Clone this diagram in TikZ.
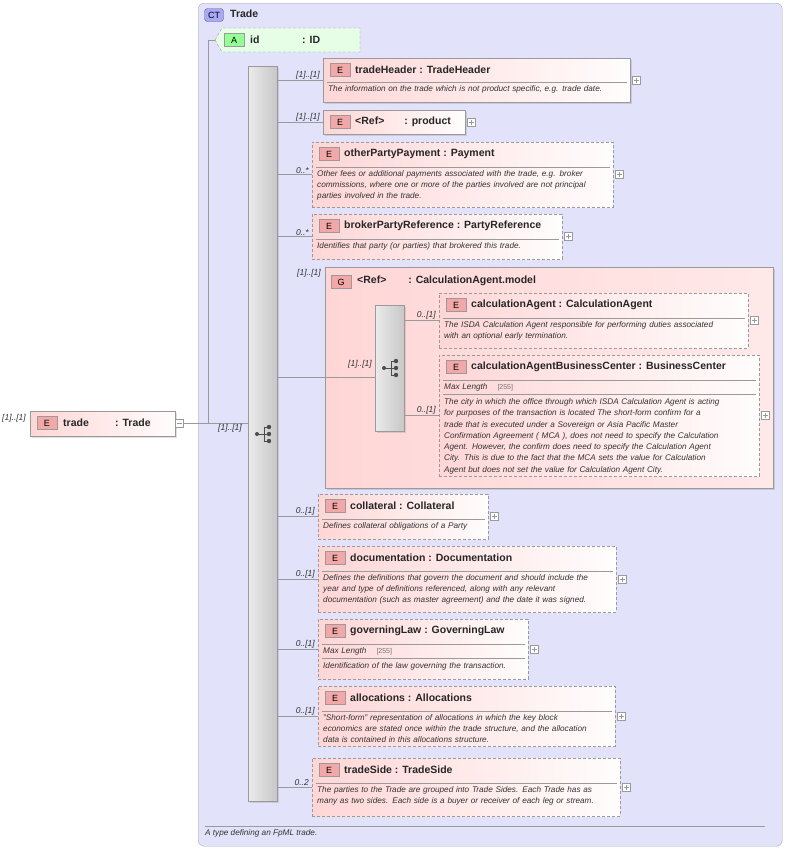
\documentclass[tikz,border=0pt]{standalone}
\usepackage{fontspec}
\setmainfont{Liberation Sans}
\usetikzlibrary{shadows}
\definecolor{ctfill}{HTML}{E2E2FA}
\definecolor{ctline}{HTML}{A8A8B8}
\definecolor{epink}{HTML}{FFD6D6}
\definecolor{ebadge}{HTML}{F2A8A8}
\definecolor{gline}{HTML}{9A9A9A}
\definecolor{afill}{HTML}{E6FDE6}
\tikzset{
  ebox/.style={anchor=north west,inner sep=0pt,draw=gline,left color=epink,right color=white!95!epink},
  solidbox/.style={drop shadow={opacity=0.25,shadow xshift=2pt,shadow yshift=-2pt}},
  dashbox/.style={dashed,dash pattern=on 3pt off 2pt},
  ebadgest/.style={draw=gline,fill=ebadge,minimum width=20pt,minimum height=13pt,inner sep=0pt,font=\fontsize{9}{10}\selectfont},
  etitle/.style={anchor=west,inner sep=0pt,font=\fontsize{10.5}{12}\selectfont\bfseries,text=black!85},
  edesc/.style={anchor=north west,inner sep=0pt,align=left,font=\fontsize{8.2}{11.3}\selectfont\itshape,text=black!80},
  sepline/.style={draw=gline},
  conn/.style={draw=gline,line width=0.6pt},
  card/.style={inner sep=0pt,font=\fontsize{8.5}{10}\selectfont\itshape,text=black!80},
  plus/.style={draw=gline,fill=white,minimum size=8pt,inner sep=0pt,
    path picture={\draw[gline] ([xshift=1.5pt]path picture bounding box.west)--([xshift=-1.5pt]path picture bounding box.east);
      \draw[gline] ([yshift=1.5pt]path picture bounding box.south)--([yshift=-1.5pt]path picture bounding box.north);}},
  minus/.style={draw=gline,fill=white,minimum size=8pt,inner sep=0pt,
    path picture={\draw[gline] ([xshift=1.5pt]path picture bounding box.west)--([xshift=-1.5pt]path picture bounding box.east);}},
  seqbar/.style={anchor=north west,inner sep=0pt,draw=gline,left color=black!8,right color=black!22,solidbox},
}
\newcommand\elem[9]{%
  \node[ebox,#6,minimum width=#4pt,minimum height=#5pt] (#1) at (#2,#3) {};
  \node[ebadgest] (#1b) at (#2+17,#3+12) {E};
  \node[etitle] (#1t) at (#2+32,#3+12) {#7};
  \ifx\relax#8\relax\else
  \draw[sepline] (#2+4,#3+#9) -- (#2+#4-3,#3+#9);
  \node[edesc,text width=#4pt-8pt] (#1d) at (#2+5,#3+#9+3) {#8};
  \fi
  \node[plus] (#1p) at (#2+#4+6,#3+#5/2) {};
}
\newcommand\seqicon[2]{%
  \draw[black!70,line width=0.8pt] (#1-7,#2) -- (#1,#2) (#1,#2-7) -- (#1,#2+7)
     (#1,#2-7) -- (#1+5,#2-7) (#1,#2) -- (#1+5,#2) (#1,#2+7) -- (#1+5,#2+7);
  \fill[black!70] (#1-7,#2) circle (2pt) (#1+5,#2-7) circle (2.2pt) (#1+5,#2) circle (2.2pt) (#1+5,#2+7) circle (2.2pt);
}
\newcommand\maxlen{Max Length\hspace{10pt}{\upshape\fontsize{7}{8}\selectfont\color{black!55}[255]}\\[4pt]}
\begin{document}
\begin{tikzpicture}[x=1pt,y=-1pt]
\useasboundingbox (0,0) rectangle (787,849);
% outer CT box
\node[anchor=north west,draw=ctline,fill=ctfill,rounded corners=6pt,minimum width=584pt,minimum height=843pt,inner sep=0pt] (ct) at (198,3) {};
\node[draw=black!60,fill=blue!25!ctfill,rounded corners=3pt,minimum width=19pt,minimum height=13pt,inner sep=0pt,font=\fontsize{9}{10}\selectfont] (ctb) at (214,15) {CT};
\node[etitle] (ctt) at (230,14) {Trade};
\draw[gline] (205,826) -- (765,826);
\node[edesc] (ctd) at (205,829) {A type defining an FpML trade.};

% attribute id
\draw[draw=gline,fill=afill,dashbox] (215,40) -- (222,28) -- (360,28) -- (360,52) -- (222,52) -- cycle;
\node[draw=gline,fill=green!35!afill,minimum width=20pt,minimum height=13pt,inner sep=0pt,font=\fontsize{9}{10}\selectfont] (ab) at (234,40) {A};
\node[etitle] (idn) at (250,40) {id};
\node[etitle] (idt) at (302,40) {: ID};
\coordinate (ida) at (215,40);

% trade element
\node[ebox,solidbox,minimum width=145pt,minimum height=25pt] (trade) at (30,411) {};
\node[ebadgest] (tradeb) at (47,423) {E};
\node[etitle] (tradet) at (63,423) {trade};
\node[etitle] (tradet2) at (115,423) {: Trade};
\node[minus] (tradem) at (179,423) {};
\node[card,anchor=west] at (2,418) {[1]..[1]};

% main sequence
\node[seqbar,minimum width=29pt,minimum height=735pt] (seq) at (248,66) {};
\seqicon{264}{434}
\draw[conn] (tradem.east) -- (seq.west |- tradem.east);
\node[card,anchor=west] at (218,428) {[1]..[1]};
\coordinate (vj) at (208,423);
\draw[conn] (vj) -- (208,40) -- (ida);

% children
\elem{th}{323}{58}{307}{44}{solidbox}{tradeHeader : TradeHeader}{The information on the trade which is not product specific, e.g. trade date.}{24}
\elem{prod}{323}{110}{142}{24}{solidbox}{<Ref>\hspace{20pt}: product}{}{0}
\elem{opp}{312}{142}{301}{65}{dashbox}{otherPartyPayment : Payment}{Other fees or additional payments associated with the trade, e.g. broker\\commissions, where one or more of the parties involved are not principal\\parties involved in the trade.}{25}
\elem{bpr}{312}{214}{250}{45}{dashbox}{brokerPartyReference : PartyReference}{Identifies that party (or parties) that brokered this trade.}{25}
\elem{col}{318}{494}{170}{45}{dashbox}{collateral : Collateral}{Defines collateral obligations of a Party}{25}
\elem{doc}{318}{546}{298}{66}{dashbox}{documentation : Documentation}{Defines the definitions that govern the document and should include the\\year and type of definitions referenced, along with any relevant\\documentation (such as master agreement) and the date it was signed.}{25}
\elem{gl}{318}{619}{210}{60}{dashbox}{governingLaw : GoverningLaw}{\maxlen Identification of the law governing the transaction.}{25}
\draw[sepline] (322,658) -- (525,658);
\elem{alloc}{318}{686}{297}{60}{dashbox}{allocations : Allocations}{"Short-form" representation of allocations in which the key block\\economics are stated once within the trade structure, and the allocation\\data is contained in this allocations structure.}{25}
\elem{ts}{312}{758}{308}{58}{dashbox}{tradeSide : TradeSide}{The parties to the Trade are grouped into Trade Sides. Each Trade has as\\many as two sides. Each side is a buyer or receiver of each leg or stream.}{25}

% group
\node[ebox,solidbox,minimum width=448pt,minimum height=221pt,left color=epink,right color=epink!55!white] (grp) at (325,267) {};
\node[ebadgest] (grpb) at (341,282) {G};
\node[etitle] (grpt) at (357,281) {<Ref>\hspace{22pt}: CalculationAgent.model};
\node[seqbar,minimum width=29pt,minimum height=126pt] (seq2) at (375,305) {};
\seqicon{391}{368}
\elem{ca}{439}{293}{309}{55}{dashbox}{calculationAgent : CalculationAgent}{The ISDA Calculation Agent responsible for performing duties associated\\with an optional early termination.}{25}
\elem{cabc}{439}{355}{320}{121}{dashbox}{calculationAgentBusinessCenter : BusinessCenter}{\maxlen The city in which the office through which ISDA Calculation Agent is acting\\for purposes of the transaction is located The short-form confirm for a\\trade that is executed under a Sovereign or Asia Pacific Master\\Confirmation Agreement ( MCA ), does not need to specify the Calculation\\Agent. However, the confirm does need to specify the Calculation Agent\\City. This is due to the fact that the MCA sets the value for Calculation\\Agent but does not set the value for Calculation Agent City.}{25}
\draw[sepline] (443,394) -- (756,394);

% connectors
\foreach \n/\c in {th/{[1]..[1]},prod/{[1]..[1]},opp/{0..*},bpr/{0..*},col/{0..[1]},doc/{0..[1]},gl/{0..[1]},alloc/{0..[1]},ts/{0..2}}{
  \draw[conn] (seq.east |- \n.west) -- (\n.west);
  \node[card,anchor=south east] at ([xshift=-3pt,yshift=1pt]\n.west) {\c};
}
\draw[conn] (seq.east |- grp.west) -- (grp.west);
\node[card,anchor=south east] at (321,277) {[1]..[1]};
\draw[conn] (grp.west) -- (seq2.west |- grp.west);
\node[card,anchor=south east] at (372,368) {[1]..[1]};
\foreach \n in {ca,cabc}{
  \draw[conn] (seq2.east |- \n.west) -- (\n.west);
  \node[card,anchor=south east] at ([xshift=-3pt,yshift=1pt]\n.west) {0..[1]};
}
\end{tikzpicture}
\end{document}
